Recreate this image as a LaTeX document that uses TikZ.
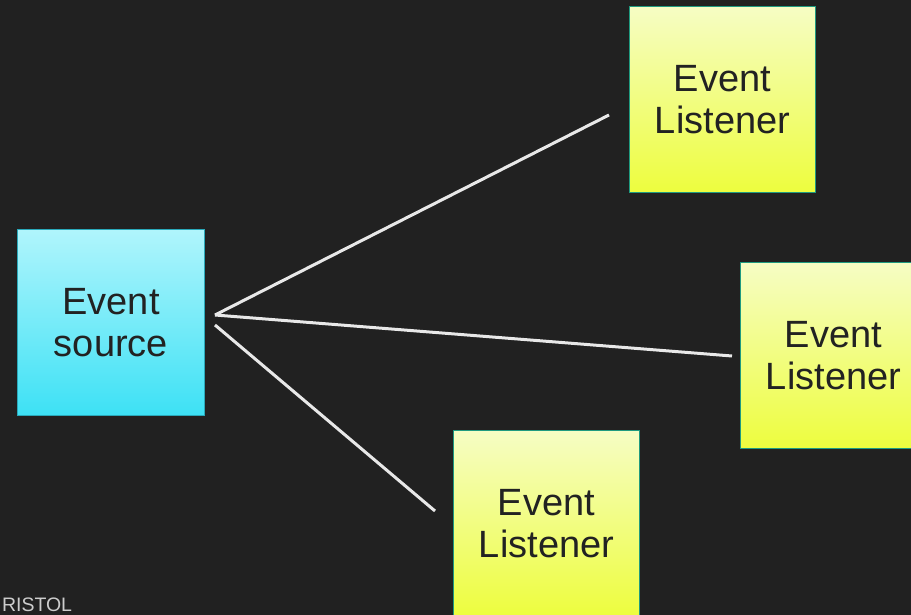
\documentclass[tikz,border=0pt]{standalone}
\usepackage{fontspec}
\setmainfont{Liberation Sans}
\begin{document}
\begin{tikzpicture}[x=1pt,y=-1pt,
  every node/.style={inner sep=0pt, outer sep=0pt},
  srcbox/.style={rectangle, draw=srcborder, line width=1.5pt, top color=srctop, bottom color=srcbot,
    minimum width=187pt, minimum height=186pt, align=center, text=boxtext,
    font=\fontsize{38}{42}\selectfont},
  lstbox/.style={rectangle, draw=lstborder, line width=1.5pt, top color=lsttop, bottom color=lstbot,
    minimum width=186pt, minimum height=186pt, align=center, text=boxtext,
    font=\fontsize{38}{42}\selectfont},
  wire/.style={draw=wirecol, line width=3pt}]
\definecolor{bg}{HTML}{212121}
\definecolor{srctop}{HTML}{B0F5FC}
\definecolor{srcbot}{HTML}{3DE1F5}
\definecolor{srcborder}{HTML}{2AA9BA}
\definecolor{lsttop}{HTML}{F6FDC4}
\definecolor{lstbot}{HTML}{EDFD3E}
\definecolor{lstborder}{HTML}{1F9A80}
\definecolor{boxtext}{HTML}{222222}
\definecolor{wirecol}{HTML}{E8E8E8}
\definecolor{footcol}{HTML}{CCCCCC}
\useasboundingbox (0,0) rectangle (911,615);
\clip (0,0) rectangle (911,615);
\fill[bg] (0,0) rectangle (911,615);

\node[srcbox] (src) at (111,322.5) {Event\\source};
\node[lstbox] (l1) at (722.5,99.5) {Event\\Listener};
\node[lstbox] (l2) at (833.5,355.5) {Event\\Listener};
\node[lstbox] (l3) at (546.5,523.5) {Event\\Listener};

\coordinate (hub) at (215,315);
\coordinate (hubb) at (215,325);
\coordinate (e1) at (609,115);
\coordinate (e2) at (732,356);
\coordinate (e3) at (435,511);

\draw[wire] (hub) -- (e1);
\draw[wire] (hub) -- (e2);
\draw[wire] (hubb) -- (e3);

\node[anchor=base west, text=footcol, font=\fontsize{19.5}{23}\selectfont] (foot) at (2,611) {RISTOL};
\end{tikzpicture}
\end{document}
